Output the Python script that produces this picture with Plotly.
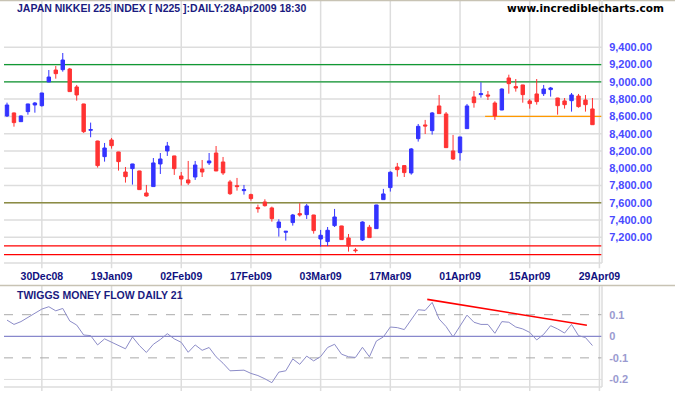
import plotly.graph_objects as go

# ---------------- data ----------------
opens = [8605, 8640, 8539, 8655, 8732, 8724, 8999, 9137, 9141, 9149,
         8941, 8744, 8439, 8315, 8134, 8327, 8188, 7956, 7995, 7968,
         7713, 7787, 8049, 8200, 8142, 7910, 7864, 7898, 7991, 8061,
         8176, 8072, 7841, 7798, 7740, 7694, 7543, 7609, 7540, 7312,
         7258, 7370, 7474, 7462, 7458, 7180, 7150, 7335, 7331, 7192,
         7053, 7169, 7316, 7300, 7636, 7775, 8014, 8030, 7945, 8342,
         8501, 8435, 8721, 8628, 8200, 8180, 8458, 8825, 8852, 8848,
         8755, 8674, 9045, 8945, 8964, 8779, 8860, 8863, 8910, 8813,
         8779, 8782, 8836, 8790, 8686]
highs = [8759, 8645, 8610, 8746, 8767, 8873, 9137, 9184, 9334, 9161,
         8964, 8746, 8528, 8318, 8292, 8350, 8190, 8014, 8051, 7970,
         7806, 8118, 8176, 8304, 8144, 7956, 8084, 8084, 8095, 8176,
         8257, 8130, 7864, 7887, 7806, 7705, 7578, 7640, 7555, 7408,
         7272, 7470, 7594, 7586, 7460, 7285, 7319, 7528, 7333, 7238,
         7076, 7385, 7343, 7576, 7760, 7964, 8061, 8037, 8234, 8512,
         8559, 8651, 8848, 8651, 8385, 8364, 8744, 8894, 8995, 8894,
         8775, 8925, 9083, 9033, 8966, 8802, 9033, 8964, 8941, 8815,
         8813, 8871, 8860, 8848, 8813]
lows = [8593, 8481, 8535, 8620, 8643, 8713, 8997, 9037, 9118, 8885,
        8782, 8408, 8358, 8007, 8076, 8227, 7972, 7833, 7810, 7748,
        7671, 7785, 7933, 8142, 7922, 7798, 7806, 7864, 7898, 8037,
        7966, 7922, 7690, 7740, 7694, 7624, 7485, 7555, 7381, 7208,
        7161, 7335, 7439, 7412, 7242, 7092, 7099, 7319, 7170, 7034,
        7022, 7157, 7194, 7298, 7634, 7729, 7902, 7898, 7925, 8308,
        8396, 8389, 8630, 8236, 8095, 8088, 8456, 8701, 8817, 8790,
        8559, 8672, 8863, 8887, 8759, 8690, 8736, 8836, 8829, 8620,
        8690, 8655, 8701, 8655, 8502]
closes = [8732, 8528, 8605, 8744, 8755, 8871, 9056, 9095, 9253, 8887,
          8848, 8423, 8447, 8030, 8234, 8261, 8076, 7902, 8049, 7752,
          7678, 8061, 8107, 8257, 7995, 7875, 7829, 8037, 7956, 8084,
          7968, 7945, 7705, 7787, 7752, 7648, 7532, 7566, 7416, 7377,
          7269, 7458, 7458, 7563, 7277, 7223, 7281, 7435, 7173, 7099,
          7045, 7377, 7196, 7574, 7702, 7953, 7983, 7949, 8223, 8485,
          8489, 8640, 8632, 8238, 8107, 8362, 8721, 8759, 8863, 8836,
          8605, 8917, 8979, 8929, 8852, 8748, 8771, 8917, 8929, 8724,
          8736, 8848, 8713, 8736, 8504]

money_flow = [0.075, 0.055, 0.068, 0.086, 0.106, 0.126, 0.137, 0.118, 0.129, 0.071,
              0.052, 0.006, 0.003, -0.040, -0.012, -0.028, -0.043, -0.058, -0.003, -0.043,
              -0.075, -0.037, -0.015, 0.012, -0.012, -0.028, -0.074, -0.040, -0.065, -0.052,
              -0.095, -0.125, -0.160, -0.160, -0.157, -0.172, -0.182, -0.197, -0.215, -0.166,
              -0.160, -0.105, -0.130, -0.092, -0.114, -0.094, -0.052, -0.037, -0.083, -0.095,
              -0.098, -0.051, -0.095, -0.022, -0.003, 0.043, 0.040, 0.031, 0.075, 0.123,
              0.120, 0.157, 0.080, 0.045, -0.003, 0.049, 0.098, 0.065, 0.055, 0.055,
              0.014, 0.068, 0.065, 0.043, 0.034, 0.018, -0.017, 0.009, 0.049, 0.034,
              0.015, 0.055, 0.003, -0.006, -0.043]

tick_pos = [5, 15, 25, 35, 45, 55, 65, 75, 85]
tick_labels = ["30Dec08", "19Jan09", "02Feb09", "17Feb09", "03Mar09",
               "17Mar09", "01Apr09", "15Apr09", "29Apr09"]
price_ticks = [7200, 7400, 7600, 7800, 8000, 8200, 8400, 8600, 8800, 9000, 9200, 9400]
mf_ticks = [0.1, 0, -0.1, -0.2]

green_levels = [9000, 9200]
olive_levels = [7600]
red_levels = [7000, 7100]
orange_level = 8600
orange_start = 68.6
trend_x = [60.3, 83.2]
trend_y = [0.171, 0.051]

bars = list(range(len(closes)))

# ---------------- figure ----------------
W, H = 675, 395
ML, MR, MT, MB = 4, 73, 0, 8
PW, PH = W - ML - MR, H - MT - MB
GRID = "#dddddd"


def px(x):
    return (x - ML) / PW


def py(y):
    return (H - MB - y) / PH


fig = go.Figure()

fig.add_trace(go.Candlestick(
    x=bars, open=opens, high=highs, low=lows, close=closes,
    increasing=dict(line=dict(color="#3333ff", width=1), fillcolor="#3333ff"),
    decreasing=dict(line=dict(color="#ff3333", width=1), fillcolor="#ff3333"),
    whiskerwidth=0, xaxis="x", yaxis="y", showlegend=False, hoverinfo="skip",
))

fig.add_trace(go.Scatter(
    x=bars, y=money_flow, mode="lines",
    line=dict(color="#8c8cc8", width=1), xaxis="x2", yaxis="y2",
    showlegend=False, hoverinfo="skip",
))

fig.add_trace(go.Scatter(
    x=trend_x, y=trend_y, mode="lines",
    line=dict(color="#ff0000", width=1.6), xaxis="x2", yaxis="y2",
    showlegend=False, hoverinfo="skip",
))

shapes = []
# grid lines (drawn as shapes so level lines can sit on top of them)
for t in tick_pos:
    shapes.append(dict(type="line", xref="x", yref="y domain", x0=t, x1=t, y0=-0.02, y1=1,
                       line=dict(color=GRID, width=1.5), layer="below"))
    shapes.append(dict(type="line", xref="x2", yref="y2 domain", x0=t, x1=t, y0=-0.04, y1=1,
                       line=dict(color=GRID, width=1.5), layer="below"))
for v in price_ticks:
    shapes.append(dict(type="line", xref="x domain", yref="y", x0=0, x1=1, y0=v, y1=v,
                       line=dict(color=GRID, width=1.5), layer="below"))

for lv in green_levels:
    shapes.append(dict(type="line", xref="x domain", yref="y", x0=0, x1=1, y0=lv, y1=lv,
                       line=dict(color="#119933", width=1.3), layer="below"))
for lv in olive_levels:
    shapes.append(dict(type="line", xref="x domain", yref="y", x0=0, x1=1, y0=lv, y1=lv,
                       line=dict(color="#8c8c44", width=1.3), layer="below"))
for lv in red_levels:
    shapes.append(dict(type="line", xref="x domain", yref="y", x0=0, x1=1, y0=lv, y1=lv,
                       line=dict(color="#ff0000", width=1.3), layer="below"))
shapes.append(dict(type="line", xref="x", yref="y", x0=orange_start, x1=85.37,
                   y0=orange_level, y1=orange_level,
                   line=dict(color="#ff9900", width=1.3), layer="below"))

# indicator levels
for lv, col, dash in [(-0.2, GRID, "solid"), (0.1, "#aaaaaa", "dash"),
                      (-0.1, "#aaaaaa", "dash"), (0, "#8888cc", "solid")]:
    shapes.append(dict(type="line", xref="x2 domain", yref="y2", x0=0, x1=1, y0=lv, y1=lv,
                       line=dict(color=col, width=1.3 if lv == 0 else 1, dash=dash),
                       layer="below"))

# separators / borders
shapes.append(dict(type="line", xref="paper", yref="paper", x0=px(0), x1=px(675),
                   y0=py(285.5), y1=py(285.5), line=dict(color="#c8c3b4", width=1.5)))
shapes.append(dict(type="line", xref="paper", yref="paper", x0=px(0), x1=px(675),
                   y0=py(0.5), y1=py(0.5), line=dict(color="#c8c3b4", width=1.5)))
shapes.append(dict(type="line", xref="paper", yref="paper", x0=1, x1=1,
                   y0=py(263), y1=1, line=dict(color=GRID, width=1.5)))
shapes.append(dict(type="line", xref="paper", yref="paper", x0=1, x1=1,
                   y0=0, y1=py(286), line=dict(color=GRID, width=1.5)))
shapes.append(dict(type="line", xref="paper", yref="paper", x0=0, x1=1,
                   y0=py(263), y1=py(263), line=dict(color=GRID, width=1.5)))
shapes.append(dict(type="line", xref="paper", yref="paper", x0=0, x1=1,
                   y0=0, y1=0, line=dict(color=GRID, width=1.5)))

annotations = [
    dict(text="<b>JAPAN NIKKEI 225 INDEX [ N225 ]:DAILY:28Apr2009 18:30</b>",
         xref="paper", yref="paper", x=px(15), y=py(8), xanchor="left", yanchor="middle",
         showarrow=False, font=dict(family="Liberation Sans, Arial", size=10.5, color="#1a1a80")),
    dict(text="<b>www.incrediblecharts.com</b>",
         xref="paper", yref="paper", x=px(666), y=py(8), xanchor="right", yanchor="middle",
         showarrow=False, font=dict(family="DejaVu Sans, Verdana", size=10.5, color="#000000")),
    dict(text="<b>TWIGGS MONEY FLOW DAILY 21</b>",
         xref="paper", yref="paper", x=px(15), y=py(295), xanchor="left", yanchor="middle",
         showarrow=False, font=dict(family="Liberation Sans, Arial", size=10.5, color="#1a1a80")),
]

fig.update_layout(
    width=W, height=H,
    margin=dict(l=ML, r=MR, t=MT, b=MB),
    paper_bgcolor="white", plot_bgcolor="white",
    showlegend=False,
    shapes=shapes, annotations=annotations,
    xaxis=dict(domain=[0, 1], anchor="y", range=[-0.43, 85.37],
               tickvals=tick_pos, ticktext=[f"<b>{t}</b>" for t in tick_labels],
               showgrid=False, zeroline=False, showline=False,
               ticks="outside", ticklen=3, tickcolor="rgba(0,0,0,0)",
               tickfont=dict(family="Liberation Sans, Arial", size=10.5, color="#101080"),
               rangeslider=dict(visible=False), fixedrange=True),
    yaxis=dict(domain=[py(263), 1], anchor="x", side="right", range=[6902, 9948],
               tickvals=price_ticks, ticktext=[f"<b>{v:,.2f}</b>" for v in price_ticks],
               showgrid=False, zeroline=False, showline=False,
               ticks="outside", ticklen=4, tickcolor="rgba(0,0,0,0)",
               tickfont=dict(family="Liberation Sans, Arial", size=11, color="#4a4aff"),
               fixedrange=True),
    xaxis2=dict(domain=[0, 1], anchor="y2", range=[-0.43, 85.37],
                tickvals=tick_pos, showticklabels=False,
                showgrid=False, zeroline=False, showline=False, ticks="", fixedrange=True),
    yaxis2=dict(domain=[0, py(286)], anchor="x2", side="right", range=[-0.235, 0.233],
                tickvals=mf_ticks, ticktext=[f"<b>{v:g}</b>" for v in mf_ticks],
                showgrid=False, zeroline=False, showline=False,
                ticks="outside", ticklen=4, tickcolor="rgba(0,0,0,0)",
                tickfont=dict(family="Liberation Sans, Arial", size=11, color="#9a9ad0"),
                fixedrange=True),
)

fig.write_html("out.html", config={"displayModeBar": False},
               post_script="document.body.style.margin='0px';")
